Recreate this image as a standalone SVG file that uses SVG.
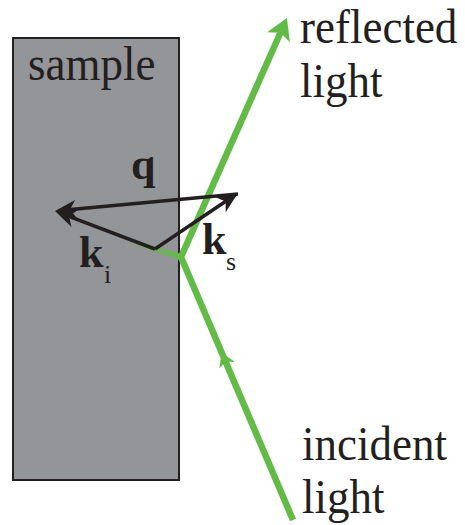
<svg xmlns="http://www.w3.org/2000/svg" width="465" height="525" viewBox="0 0 465 525">
<style>
.lbl{font-family:"Liberation Serif","Times New Roman",serif;fill:#231f20}
.big{font-size:45px}
.vec{font-size:44px;font-weight:bold}
.sub{font-size:26px}
.blk{fill:none;stroke:#231f20;stroke-width:3.5;stroke-linecap:butt}
.grn{fill:none;stroke:#62bb46;stroke-width:6.5;stroke-linejoin:miter}
</style>
<defs>
<marker id="ah" viewBox="-18 -10 24 20" refX="0" refY="0" markerWidth="24" markerHeight="20" markerUnits="userSpaceOnUse" orient="auto">
<path d="M5,0 L-16,-9 L-10,0 L-16,9 Z" fill="#231f20"/>
</marker>
<marker id="gh" viewBox="-12 -14 28 28" refX="0" refY="0" markerWidth="28" markerHeight="28" markerUnits="userSpaceOnUse" orient="auto">
<path d="M12,0 L-9,-12.5 L-4,0 L-9,12.5 Z" fill="#62bb46"/>
</marker>
<marker id="gm" viewBox="-10 -10 20 20" refX="0" refY="0" markerWidth="20" markerHeight="20" markerUnits="userSpaceOnUse" orient="auto">
<path d="M5,0 L-9,-8.5 L-5,0 L-9,8.5 Z" fill="#62bb46"/>
</marker>
<linearGradient id="fade" gradientUnits="userSpaceOnUse" x1="125" y1="240" x2="181" y2="257">
<stop offset="0" stop-color="#62bb46" stop-opacity="0"/>
<stop offset="1" stop-color="#62bb46" stop-opacity="1"/>
</linearGradient>
</defs>
<g id="sample">
<rect x="13" y="38" width="166" height="442" fill="#939598" stroke="#231f20" stroke-width="2"/>
<text class="lbl big" transform="translate(28,80) scale(1,1.1)">sample</text>
</g>
<g id="connectors">
<line x1="125" y1="240" x2="181" y2="257" stroke="url(#fade)" stroke-width="6"/>
<polyline class="grn" points="293,520 181,257 282.1,29" marker-end="url(#gh)"/>
<path d="M293,520 L223.6,357" fill="none" stroke="none" marker-end="url(#gm)"/>
<line class="blk" x1="155" y1="249" x2="59.7" y2="212.8" marker-end="url(#ah)"/>
<line class="blk" x1="155" y1="249" x2="233.9" y2="195.8" marker-end="url(#ah)"/>
<line class="blk" x1="238" y1="194" x2="60" y2="210.5" marker-end="url(#ah)"/>
</g>
<g id="q"><text class="lbl vec" x="131" y="179">q</text></g>
<g id="ki"><text class="lbl vec" x="79" y="267">k</text><text class="lbl sub" x="104" y="283">i</text></g>
<g id="ks"><text class="lbl vec" x="202" y="254">k</text><text class="lbl sub" x="226" y="270">s</text></g>
<g id="reflected"><text class="lbl big" transform="translate(300,43) scale(1,1.1)">reflected</text><text class="lbl big" transform="translate(300,97) scale(1,1.1)">light</text></g>
<g id="incident"><text class="lbl big" transform="translate(302,460) scale(1,1.1)">incident</text><text class="lbl big" transform="translate(302,513) scale(1,1.1)">light</text></g>
</svg>
